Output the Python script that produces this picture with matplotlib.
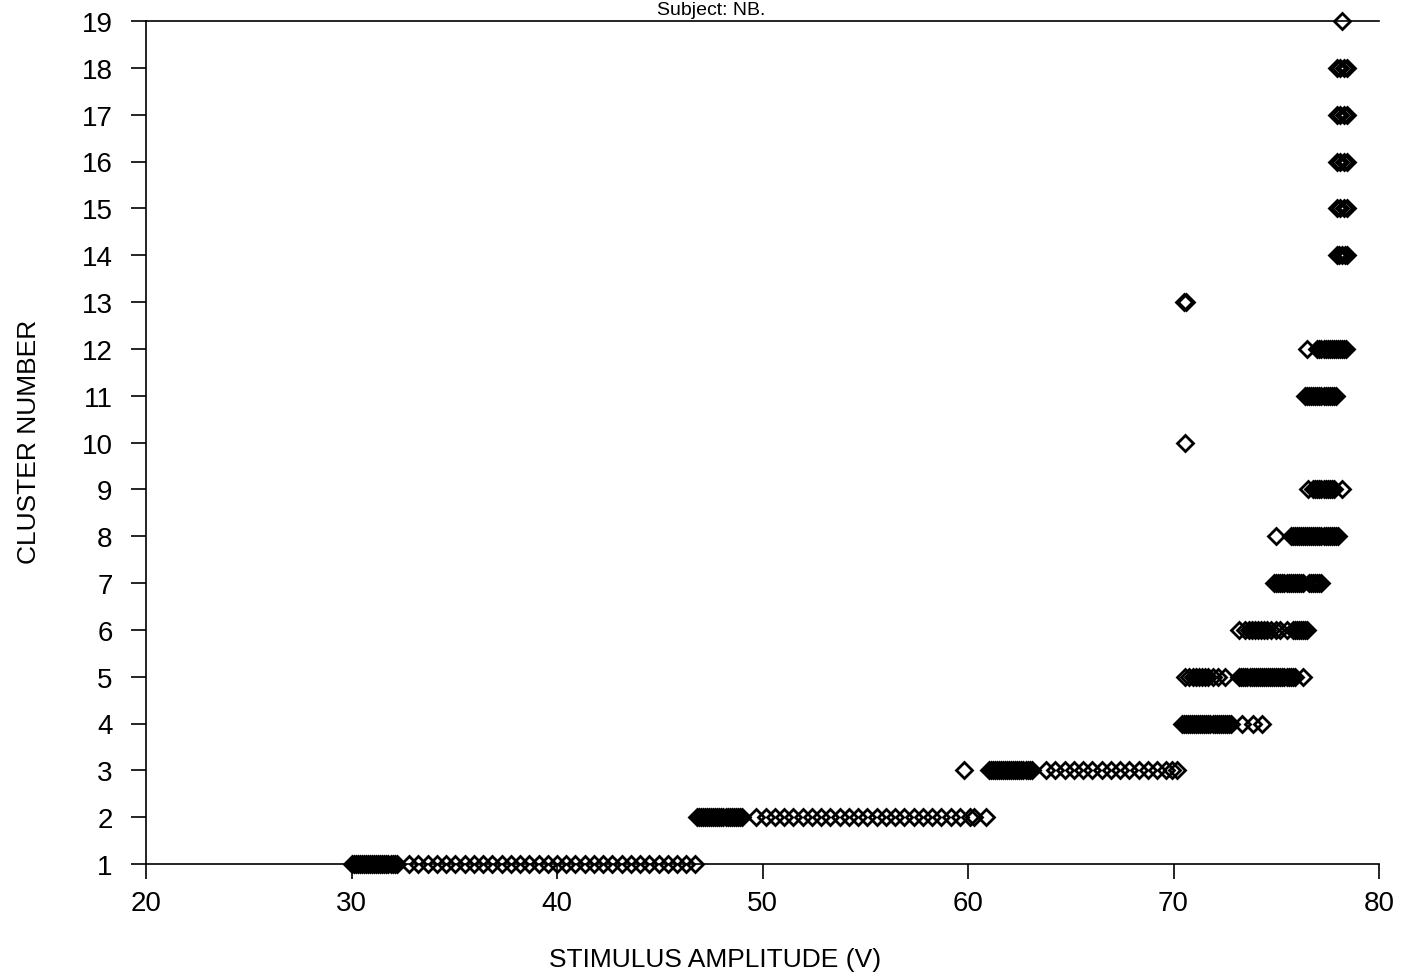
"""
Cluster number vs. stimulus amplitude, open-diamond scatter.
"""
import matplotlib
matplotlib.use('Agg')
import matplotlib.pyplot as plt

plt.rcParams['font.family'] = ['Liberation Sans', 'DejaVu Sans']

# stimulus amplitude (V) of each recorded response, per cluster
cluster_1 = [30.0, 30.1, 30.2, 30.3, 30.4, 30.5, 30.6, 30.7, 30.8, 30.9, 31.0, 31.1,
             31.2, 31.3, 31.4, 31.5, 31.6, 31.7, 31.8, 31.9, 32.0, 32.1, 32.2,
             32.8, 33.25, 33.7, 34.15, 34.6, 35.05, 35.5, 35.95, 36.4, 36.85, 37.3,
             37.75, 38.2, 38.65, 39.1, 39.55, 40.0, 40.45, 40.9, 41.35, 41.8, 42.25,
             42.7, 43.15, 43.6, 44.05, 44.5, 44.95, 45.4, 45.85, 46.3, 46.7]
cluster_2 = [46.8, 46.9, 47.0, 47.1, 47.2, 47.3, 47.4, 47.5, 47.6, 47.7, 47.8, 47.9,
             48.0, 48.1, 48.2, 48.3, 48.4, 48.5, 48.6, 48.7, 48.8, 48.9, 49.0,
             49.7, 50.15, 50.6, 51.05, 51.5, 51.95, 52.4, 52.85, 53.3, 53.75, 54.2,
             54.65, 55.1, 55.55, 56.0, 56.45, 56.9, 57.35, 57.8, 58.25, 58.7, 59.15,
             59.6, 60.1, 60.3, 60.9]
cluster_3 = [59.8,
             61.0, 61.1, 61.2, 61.3, 61.4, 61.5, 61.6, 61.7, 61.8, 61.9, 62.0, 62.1,
             62.2, 62.3, 62.4, 62.5, 62.6, 62.7, 62.8, 62.9, 63.0, 63.1,
             63.8, 64.25, 64.7, 65.15, 65.6, 66.05, 66.5, 66.95, 67.4, 67.85, 68.3,
             68.75, 69.2, 69.65, 69.95, 70.15]
cluster_4 = [70.4, 70.5, 70.6, 70.7, 70.8, 70.9, 71.0, 71.1, 71.2, 71.3, 71.4, 71.5,
             71.6, 71.7, 71.8, 71.9, 72.0, 72.1, 72.2, 72.3, 72.4, 72.5, 72.6, 72.7,
             72.8, 73.35, 73.85, 74.3]
cluster_5 = [70.55, 70.75, 70.95, 71.1, 71.25, 71.4, 71.55, 71.7, 71.9, 72.15, 72.5,
             73.2, 73.3, 73.4, 73.5, 73.6, 73.7, 73.8, 73.9, 74.0, 74.1, 74.2, 74.3,
             74.4, 74.5, 74.6, 74.7, 74.8, 74.9, 75.0, 75.1, 75.2, 75.3, 75.4, 75.5,
             75.6, 75.7, 75.8, 75.9, 76.3]
cluster_6 = [73.2, 73.5, 73.65, 73.8, 73.95, 74.1, 74.25, 74.4, 74.55, 74.75, 75.0,
             75.2, 75.5, 75.8, 75.9, 76.0, 76.1, 76.2, 76.3, 76.4, 76.5]
cluster_7 = [74.9, 75.0, 75.1, 75.2, 75.3, 75.4, 75.5, 75.6, 75.7, 75.8, 75.9, 76.0,
             76.1, 76.2, 76.3, 76.6, 76.7, 76.8, 76.9, 77.0, 77.1, 77.2]
cluster_8 = [75.0, 75.7, 75.8, 75.9, 76.0, 76.1, 76.2, 76.3, 76.4, 76.5, 76.6, 76.7,
             76.8, 76.9, 77.0, 77.1, 77.2, 77.3, 77.4, 77.5, 77.6, 77.7, 77.8, 77.9,
             78.0]
cluster_9 = [76.55, 76.8, 76.9, 77.0, 77.1, 77.2, 77.3, 77.4, 77.5, 77.6, 77.7, 77.8,
             78.2]
cluster_10 = [70.55]
cluster_11 = [76.4, 76.5, 76.6, 76.7, 76.8, 76.9, 77.0, 77.1, 77.2, 77.3, 77.4, 77.5,
              77.6, 77.7, 77.8, 77.9]
cluster_12 = [76.5, 77.0, 77.1, 77.2, 77.3, 77.4, 77.5, 77.6, 77.7, 77.8, 77.9, 78.0,
              78.1, 78.2, 78.3, 78.4]
cluster_13 = [70.5, 70.6]
cluster_14 = [77.95, 78.05, 78.2, 78.35, 78.45]
cluster_15 = [77.95, 78.1, 78.3, 78.45]
cluster_16 = [77.95, 78.1, 78.3, 78.45]
cluster_17 = [77.95, 78.1, 78.3, 78.45]
cluster_18 = [77.95, 78.1, 78.3, 78.45]
cluster_19 = [78.2]

clusters = [cluster_1, cluster_2, cluster_3, cluster_4, cluster_5, cluster_6,
            cluster_7, cluster_8, cluster_9, cluster_10, cluster_11, cluster_12,
            cluster_13, cluster_14, cluster_15, cluster_16, cluster_17, cluster_18,
            cluster_19]

x_ticks = [20, 30, 40, 50, 60, 70, 80]
y_ticks = list(range(1, 20))

fig = plt.figure(figsize=(14.02, 9.79), dpi=100)
ax = fig.add_axes([146 / 1402, 1 - 865 / 979, (1379 - 146) / 1402, (865 - 22) / 979])

for n, amps in enumerate(clusters, start=1):
    ax.plot(amps, [n] * len(amps), linestyle='none', marker='D', markersize=8,
            markerfacecolor='none', markeredgecolor='black', markeredgewidth=2.0,
            clip_on=False)

ax.set_xlim(20, 80)
ax.set_ylim(1, 19)
ax.set_xticks(x_ticks)
ax.set_yticks(y_ticks)
ax.tick_params(axis='x', direction='out', length=11, width=1.2, labelsize=20, pad=8)
ax.tick_params(axis='y', direction='out', length=11, width=1.2, labelsize=20, pad=13)
ax.spines['right'].set_visible(False)
for side in ('left', 'bottom', 'top'):
    ax.spines[side].set_linewidth(1.2)

fig.text(715 / 1402, 1 - 960 / 979, 'STIMULUS AMPLITUDE (V)', ha='center', va='center',
         fontsize=19)
fig.text(29 / 1402, 1 - 442 / 979, 'CLUSTER NUMBER', ha='center', va='center',
         rotation=90, fontsize=19)
fig.text(711 / 1402, 1 - 15 / 979, 'Subject: NB.', ha='center', va='baseline', fontsize=14)

fig.savefig('out.png', dpi=100)
